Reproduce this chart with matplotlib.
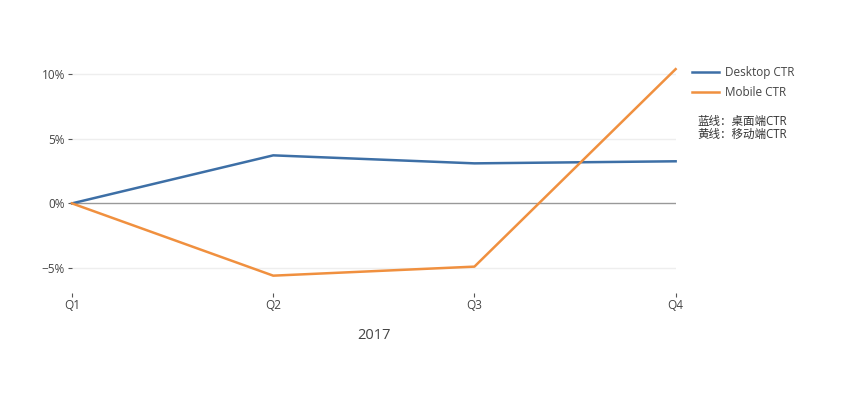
import matplotlib.pyplot as plt

plt.rcParams['font.family'] = ['Open Sans', 'Noto Sans CJK SC', 'DejaVu Sans']

quarters = ['Q1', 'Q2', 'Q3', 'Q4']
desktop_ctr = [0.0, 3.72, 3.1, 3.26]
mobile_ctr = [0.0, -5.6, -4.9, 10.4]
y_ticks = [-5, 0, 5, 10]
y_labels = ['−5%', '0%', '5%', '10%']
note = '蓝线：桌面端CTR\n黄线：移动端CTR'

fig = plt.figure(figsize=(8.49, 3.95), dpi=100)
ax = fig.add_axes([0.0848, 0.258, 0.711, 0.567])

x = range(len(quarters))
ax.plot(x, desktop_ctr, color='#3d6fa6', lw=1.8, label='Desktop CTR', clip_on=False)
ax.plot(x, mobile_ctr, color='#f0903f', lw=1.8, label='Mobile CTR', clip_on=False)

ax.set_xlim(0, 3)
ax.set_ylim(-6.95, 10.4)
ax.set_xticks(list(x))
ax.set_xticklabels(quarters)
ax.set_yticks(y_ticks)
ax.set_yticklabels(y_labels)
ax.tick_params(axis='both', colors='#555555', labelsize=8.5, length=3, width=0.8)
ax.tick_params(axis='x', pad=1)
ax.tick_params(axis='y', pad=2)
for t in ax.get_xticklabels() + ax.get_yticklabels():
    t.set_color('#444444')

for v in y_ticks:
    if v == 0:
        ax.axhline(v, color='#999999', lw=1, zorder=0)
    else:
        ax.axhline(v, color='#eeeeee', lw=1, zorder=0)

for s in ax.spines.values():
    s.set_visible(False)

ax.set_xlabel('2017', fontsize=10.5, color='#444444', labelpad=12)

leg = ax.legend(loc='upper left', bbox_to_anchor=(1.01, 1.06), frameon=False,
                fontsize=8.5, handlelength=2.3, labelspacing=0.55, handletextpad=0.5)
for t in leg.get_texts():
    t.set_color('#444444')

fig.text(0.821, 0.708, note, fontsize=8.3, color='#333333', va='top', linespacing=1.0)

fig.savefig('out.png', dpi=100)
